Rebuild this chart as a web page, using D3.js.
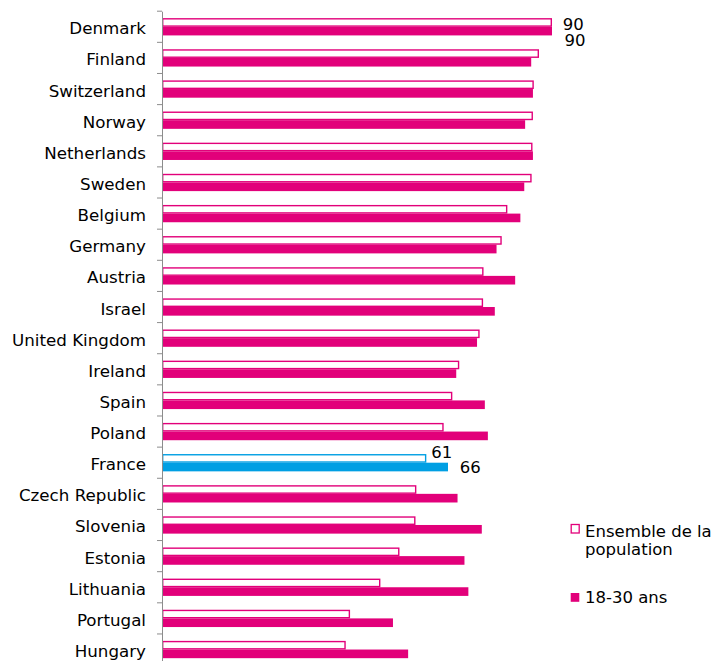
<!DOCTYPE html>
<html>
<head>
<meta charset="utf-8">
<script src="https://cdn.jsdelivr.net/npm/d3@7/dist/d3.min.js"></script>
<style>
  html, body { margin: 0; padding: 0; background: #fff; }
  svg { display: block; font-family: "DejaVu Sans", Verdana, sans-serif; }
</style>
</head>
<body>
<div id="chart"></div>
<script>
const countries = ["Denmark","Finland","Switzerland","Norway","Netherlands","Sweden","Belgium","Germany","Austria","Israel","United Kingdom","Ireland","Spain","Poland","France","Czech Republic","Slovenia","Estonia","Lithuania","Portugal","Hungary"];
const ensemble = [90,87.0,85.8,85.6,85.5,85.3,79.7,78.4,74.2,74.1,73.3,68.6,67.0,65.0,61,58.7,58.5,54.8,50.4,43.4,42.4];
const jeunes   = [90,85.2,85.6,83.8,85.6,83.6,82.7,77.2,81.5,76.8,72.7,67.9,74.5,75.2,66,68.2,73.8,69.8,70.7,53.3,56.8];
const seriesNames = ["Ensemble de la population","18-30 ans"];
const labelled = [
  {country:"Denmark", series:0, value:90},
  {country:"Denmark", series:1, value:90},
  {country:"France", series:0, value:61},
  {country:"France", series:1, value:66}
];
const highlight = "France";

const W = 715, H = 661;
const pink = "#e2007a", blue = "#009fe3";
const svg = d3.select("#chart").append("svg").attr("width", W).attr("height", H);

const x = d3.scaleLinear().domain([0, 90]).range([162, 552]);
const y = d3.scaleBand().domain(countries).range([11.2, 665.1]).paddingInner(0).paddingOuter(0);
const sub = d3.scaleBand().domain([0,1]).range([0, y.bandwidth()]).paddingInner(0).paddingOuter(0.8);

const rows = countries.map((c,i)=>({c, v:[ensemble[i], jeunes[i]]}));

const g = svg.append("g");
rows.forEach(r=>{
  const col = r.c === highlight ? blue : pink;
  g.append("rect")
    .attr("x", x(0) + 0.7)
    .attr("y", y(r.c) + sub(0) + 0.7)
    .attr("width", x(r.v[0]) - x(0) - 1.4)
    .attr("height", sub.bandwidth() - 1.4)
    .attr("fill", "#fff").attr("stroke", col).attr("stroke-width", 1.4);
  g.append("rect")
    .attr("x", x(0))
    .attr("y", y(r.c) + sub(1))
    .attr("width", x(r.v[1]) - x(0))
    .attr("height", sub.bandwidth())
    .attr("fill", col);
});

const axis = d3.axisLeft(y).tickSize(0).tickPadding(16);
const ax = svg.append("g").attr("transform", `translate(${x(0)},0)`).call(axis);
ax.select(".domain").attr("stroke", "#8c8c8c").attr("stroke-width", 1);
ax.selectAll(".tick text").attr("font-size", "16.7px").attr("fill", "#000")
  .attr("font-family", "DejaVu Sans, Verdana, sans-serif").attr("dy", "0.45em");
const bounds = countries.map(c => y(c)).concat([y.range()[1]]);
svg.append("g").selectAll("line").data(bounds).join("line")
  .attr("x1", x(0) - 5).attr("x2", x(0))
  .attr("y1", d => d).attr("y2", d => d)
  .attr("stroke", "#8c8c8c").attr("stroke-width", 1);

const labelOffsets = {
  "Denmark-0": [10.7, 8], "Denmark-1": [12.5, 14.5],
  "France-0": [5, -0.5], "France-1": [11.7, 5.6]
};
labelled.forEach(l=>{
  const off = labelOffsets[l.country + "-" + l.series];
  const cy = y(l.country) + sub(l.series) + sub.bandwidth()/2;
  svg.append("text")
    .attr("x", x(l.value) + off[0])
    .attr("y", cy + off[1])
    .attr("font-size", "16.5px").attr("fill", "#000")
    .text(d3.format("d")(l.value));
});

const leg = svg.append("g");
leg.append("rect").attr("x", 571.2).attr("y", 524.5).attr("width", 8).attr("height", 8.5)
  .attr("fill", "#fff").attr("stroke", pink).attr("stroke-width", 1.3);
leg.append("text").attr("x", 585).attr("y", 537).attr("font-size", "16.5px").attr("fill", "#000")
  .text("Ensemble de la");
leg.append("text").attr("x", 585).attr("y", 555).attr("font-size", "16.5px").attr("fill", "#000")
  .text("population");
leg.append("rect").attr("x", 570.7).attr("y", 593).attr("width", 8.6).attr("height", 8.8)
  .attr("fill", pink);
leg.append("text").attr("x", 585).attr("y", 602.5).attr("font-size", "16.5px").attr("fill", "#000")
  .text(seriesNames[1]);
</script>
</body>
</html>
